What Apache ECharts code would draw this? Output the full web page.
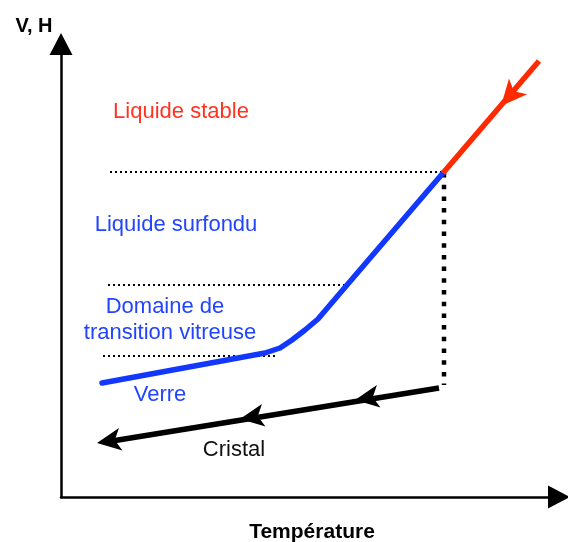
<!DOCTYPE html>
<html>
<head>
<meta charset="utf-8">
<script src="https://cdn.jsdelivr.net/npm/echarts@6/dist/echarts.min.js"></script>
<style>
  html, body { margin: 0; padding: 0; background: #fff; }
  #main { width: 568px; height: 542px; }
</style>
</head>
<body>
<div id="main"></div>
<script>
// données (unités arbitraires : x = température, y = V,H)
let verre = [[102, 159], [265, 189], [280, 194], [292, 202], [305, 212], [318, 223], [347, 257], [443, 369]];
let liquideStable = [[443, 369], [539, 481]];
let cristal = [[439, 154], [112, 101]];
// pointes des flèches
let cristalFleches = [[355, 142], [240, 123], [97, 99]];
let liquideFleche = [[501, 436]];
let palierVertical = [[444, 369], [444, 157]];
let pointilles1 = [[110, 370], [443, 370]];
let pointilles2 = [[108, 257], [347, 257]];
let pointilles3 = [[103, 186], [275, 186]];

let chartDOM = document.getElementById("main");
let chart = echarts.init(chartDOM);

function dotted(data, width, dash){
    return {
        type: "line",
        data: data,
        symbol: "none",
        silent: true,
        lineStyle: { color: "#000", width: width, type: dash }
    };
}

let font = "'Liberation Sans', Arial, sans-serif";
function label(text, x, y, color, size, bold){
    return {
        type: "text",
        x: x,
        y: y,
        style: {
            text: text,
            fill: color,
            fontSize: size,
            fontFamily: font,
            fontWeight: bold ? "bold" : "normal",
            align: "center",
            verticalAlign: "middle"
        }
    };
}

let opts = {
    animation: false,
    grid: { left: 61, right: 9, top: 44, bottom: 45 },
    xAxis: {
        type: "value",
        min: 61,
        max: 559,
        splitLine: { show: false },
        axisTick: { show: false },
        axisLabel: { show: false },
        axisLine: {
            show: true,
            symbol: ["none", "triangle"],
            symbolSize: [23, 22],
            lineStyle: { color: "#000", width: 2.5 }
        }
    },
    yAxis: {
        type: "value",
        min: 45,
        max: 498,
        splitLine: { show: false },
        axisTick: { show: false },
        axisLabel: { show: false },
        axisLine: {
            show: true,
            symbol: ["none", "triangle"],
            symbolSize: [23, 22],
            lineStyle: { color: "#000", width: 2.5 }
        }
    },
    series: [
        dotted(pointilles1, 2, [2, 3]),
        dotted(pointilles2, 2, [2, 3]),
        dotted(pointilles3, 2, [2, 3]),
        dotted(palierVertical, 4.5, [4.5, 7.2]),
        {
            type: "line",
            data: verre,
            symbol: "none",
            lineStyle: { color: "#1238ff", width: 5.5, cap: "round", join: "round" }
        },
        {
            type: "line",
            data: liquideStable,
            symbol: "none",
            lineStyle: { color: "#ff2a00", width: 5.5 }
        },
        {
            type: "scatter",
            data: liquideFleche,
            symbol: "arrow",
            symbolSize: [18, 26],
            symbolRotate: 139,
            itemStyle: { color: "#ff2a00", opacity: 1 }
        },
        {
            type: "line",
            data: cristal,
            symbol: "none",
            lineStyle: { color: "#000", width: 5.5 }
        },
        {
            type: "scatter",
            data: cristalFleches,
            symbol: "arrow",
            symbolSize: [17, 24],
            symbolRotate: 99,
            itemStyle: { color: "#000", opacity: 1 }
        }
    ],
    graphic: [
        label("V, H", 34, 26, "#000", 20, true),
        label("Température", 312, 532, "#000", 21, true),
        label("Liquide stable", 181, 112, "#ff3320", 22),
        label("Liquide surfondu", 176, 225, "#2244ff", 22),
        label("Domaine de", 165, 307, "#2244ff", 22),
        label("transition vitreuse", 170, 333, "#2244ff", 22),
        label("Verre", 160, 395, "#2244ff", 22),
        label("Cristal", 234, 450, "#111", 22)
    ]
};
chart.setOption(opts);
</script>
</body>
</html>
